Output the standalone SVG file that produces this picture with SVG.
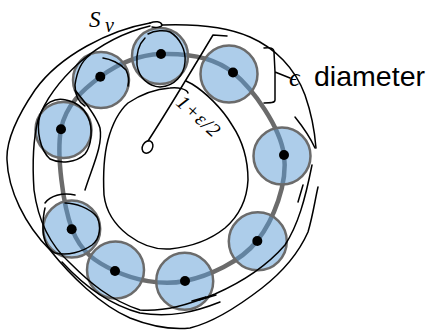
<svg xmlns="http://www.w3.org/2000/svg" width="430" height="331" viewBox="0 0 430 331">
<style>
.ring{fill:none;stroke:#6b6b6b;stroke-width:4.5}
.c{fill:#5b9bd5;fill-opacity:0.5;stroke:#6b6b6b;stroke-width:2.5}
.d{fill:#000}
.ink{fill:none;stroke:#000;stroke-width:1.5;stroke-linecap:round;stroke-linejoin:round}
.lbl{font-family:"Liberation Sans",Arial,sans-serif;font-size:27.5px;fill:#000}
.math{font-family:"Liberation Serif","DejaVu Serif",serif;font-style:italic;fill:#000}
</style>
<g id="ring">
<path class="ring" d="M161,54 C183.2,53.3 212.5,55.7 233,72.5 C253.5,89.3 280,126.9 284,155 C288,183.1 273.5,220 257,241 C240.5,262 208.7,276 185,281 C161.3,286 133.8,279.7 115,271 C96.2,262.3 81,252.7 72,229 C63,205.3 56.3,154.3 61,129 C65.7,104.7 83.3,89.5 100,77 C116.7,64.5 138.8,54.8 161,54 Z"/>
</g>
<g id="balls">
<g id="b1"><circle class="c" cx="160" cy="56" r="28"/><circle class="d" cx="161" cy="54" r="5"/></g>
<g id="b2"><circle class="c" cx="229" cy="74" r="28.5"/><circle class="d" cx="233" cy="72.5" r="5"/></g>
<g id="b3"><circle class="c" cx="101" cy="80" r="28"/><circle class="d" cx="100.3" cy="76.7" r="5"/></g>
<g id="b4"><circle class="c" cx="63.5" cy="130" r="28"/><circle class="d" cx="61" cy="129.3" r="5"/></g>
<g id="b5"><circle class="c" cx="71.7" cy="229" r="28.5"/><circle class="d" cx="71.7" cy="229.3" r="5"/></g>
<g id="b6"><circle class="c" cx="115.5" cy="270" r="28.5"/><circle class="d" cx="115" cy="271" r="5"/></g>
<g id="b7"><circle class="c" cx="184.7" cy="281.3" r="28.5"/><circle class="d" cx="185" cy="281" r="5"/></g>
<g id="b8"><circle class="c" cx="257.8" cy="241.3" r="29"/><circle class="d" cx="257.3" cy="241" r="5"/></g>
<g id="b9"><circle class="c" cx="282" cy="156" r="28.5"/><circle class="d" cx="284" cy="155" r="5"/></g>
</g>
<g id="sketch">
<path class="ink" d="M162,25 C190,24 225,26 250,37 C275,48 295,68 305,95 C312,115 315,135 316,148"/>
<path class="ink" d="M295,117 C303,127 310,137 315,148"/>
<path class="ink" d="M150,23 C155,21 161,21 162,25 C162,27 156,28 152,27"/>
<path class="ink" d="M150,23 C110,30 60,55 35,90 C18,115 6,140 7,160 C8,190 25,225 50,250 C70,275 100,305 130,318 C150,326 170,330 190,328 C215,322 240,305 262,288 C285,270 300,250 308,232 C313,215 315,200 318,187"/>
<path class="ink" d="M150,26 C125,32 100,45 80,62 C60,80 45,100 38,120 C33,140 32,160 34,190 C38,220 50,245 70,263 C90,283 110,300 140,310 C165,312 190,304 215,294 C240,283 265,268 285,245 C298,225 305,200 312,165"/>
<path class="ink" d="M62,262 C85,287 110,305 140,313 C170,318 195,312 220,302"/>
<path class="ink" d="M192,301 L206,297 L199,300 L216,295"/>
<path class="ink" d="M303,185 L298,202"/>
<path class="ink" d="M148,34 C155,30 165,30 170,32 C180,38 186,50 185,62 C184,75 175,86 160,87 C148,86 139,78 137,65 C136,52 140,43 145,38"/>
<path class="ink" d="M103,58 C110,59 120,63 126,70 C129,76 129,82 128,86 M90,55 C83,60 77,70 75,85 C75,95 78,102 85,106"/>
<path class="ink" d="M66,100 C55,97 44,103 40,115 C36,130 40,150 50,159 C60,164 76,163 85,154 C92,145 93,128 88,117 C84,108 76,102 66,100"/>
<path class="ink" d="M75,90 C80,97 95,112 100,128 C103,145 93,165 85,190"/>
<path class="ink" d="M45,203 C50,196 62,192 75,195 M65,203 C75,203 90,208 97,217 C101,225 101,238 92,245 C82,252 68,256 55,253 C46,248 43,238 43,227 C43,218 44,212 45,208"/>
<path class="ink" d="M188,93 C187,89 178,87 170,88 C155,89 140,95 128,103 C118,112 112,125 108,140 C104,155 103,175 104,195 C106,212 115,225 128,235 C140,244 155,250 170,249 C190,247 210,240 225,228 C240,215 247,200 248,180 C248,160 242,140 232,125 C222,108 205,92 192,84 L186,81"/>
<path class="ink" d="M148,141 C165,115 195,65 213,35 L227,36"/>
<ellipse class="ink" cx="147.5" cy="147" rx="5" ry="6.5" transform="rotate(30 147.5 147)"/>
<path class="ink" d="M264,48 C270,47 274,48 274,52 L275,72 L290,78 M275,72 L275,100 C275,103 270,103 264,103"/>
</g>
<g id="labels">
<text class="math" x="89" y="27" font-size="23">S</text>
<text class="math" x="105" y="32" font-size="20">v</text>
<text class="math" x="289" y="86" font-size="26">ϵ</text>
<text class="lbl" x="314" y="86" textLength="111" lengthAdjust="spacingAndGlyphs">diameter</text>
<text class="math" font-size="20" letter-spacing="1" transform="translate(175,104) rotate(42)">1+ε/2</text>
</g>
</svg>
